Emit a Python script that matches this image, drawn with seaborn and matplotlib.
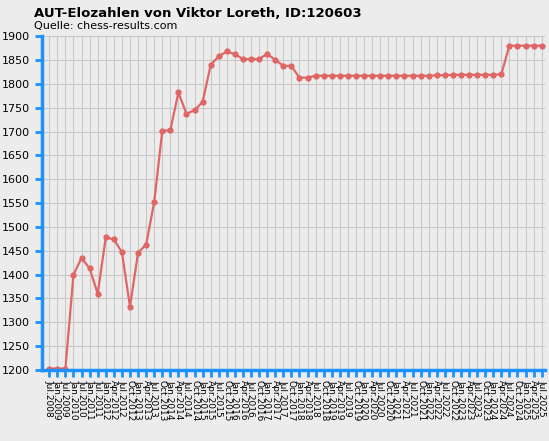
import pandas as pd
import matplotlib
matplotlib.use('Agg')
import matplotlib.pyplot as plt
import seaborn as sns

### DATA ###

dates = ['Jul.2008', 'Jan.2009', 'Jul.2009', 'Jan.2010', 'Jul.2010', 'Jan.2011', 'Jul.2011']
for yr in range(2012, 2025):
	dates += ['%s.%d' % (m, yr) for m in ['Jan', 'Apr', 'Jul', 'Oct']]
dates += ['Jan.2025', 'Apr.2025', 'Jul.2025']

elo = [1203, 1203, 1203, 1400, 1435, 1413, 1360, 1478, 1474, 1447, 1333, 1446, 1463,
	1552, 1701, 1703, 1782, 1737, 1745, 1762, 1840, 1858, 1868, 1862, 1852, 1852,
	1852, 1863, 1850, 1838, 1837, 1813, 1813, 1817, 1817, 1817, 1817, 1817, 1817,
	1817, 1817, 1817, 1817, 1817, 1817, 1817, 1817, 1817, 1818, 1818, 1819, 1819,
	1819, 1819, 1819, 1819, 1820, 1880, 1880, 1880, 1880, 1880]

df = pd.DataFrame({'pos': range(len(dates)), 'elo': elo})

### PLOT ###

bg = '#ececec'
blue = '#1e90ff'
fig = plt.figure(figsize=(5.49, 4.41), dpi=100, facecolor=bg)
ax = fig.add_axes([0.0765, 0.161, 0.916, 0.757], facecolor=bg)
sns.lineplot(data=df, x='pos', y='elo', color='#e06666', linewidth=1.6,
	marker='o', markersize=4.5, markeredgewidth=0, ax=ax)

ax.set_xlim(-0.9, len(dates) - 0.6)
ax.set_ylim(1200, 1900)
ax.set_yticks(range(1200, 1901, 50))
ax.set_xticks(range(len(dates)))
ax.set_xticklabels(dates, rotation=-90, fontsize=6.5)
ax.tick_params(axis='y', labelsize=8, colors=blue, labelcolor='black', length=5, width=2)
ax.tick_params(axis='x', colors=blue, labelcolor='black', length=5, width=2, pad=2)
ax.grid(True, color='#c8c8c8', linewidth=0.8)
ax.set_axisbelow(True)
ax.set_xlabel('')
ax.set_ylabel('')
for s in ['top', 'right']:
	ax.spines[s].set_visible(False)
for s in ['left', 'bottom']:
	ax.spines[s].set_color(blue)
	ax.spines[s].set_linewidth(2.5)

fig.text(0.062, 0.985, 'AUT-Elozahlen von Viktor Loreth, ID:120603', fontsize=9.5,
	fontweight='bold', va='top')
fig.text(0.062, 0.952, 'Quelle: chess-results.com', fontsize=8, va='top')

fig.savefig('out.png', dpi=100, facecolor=bg)
